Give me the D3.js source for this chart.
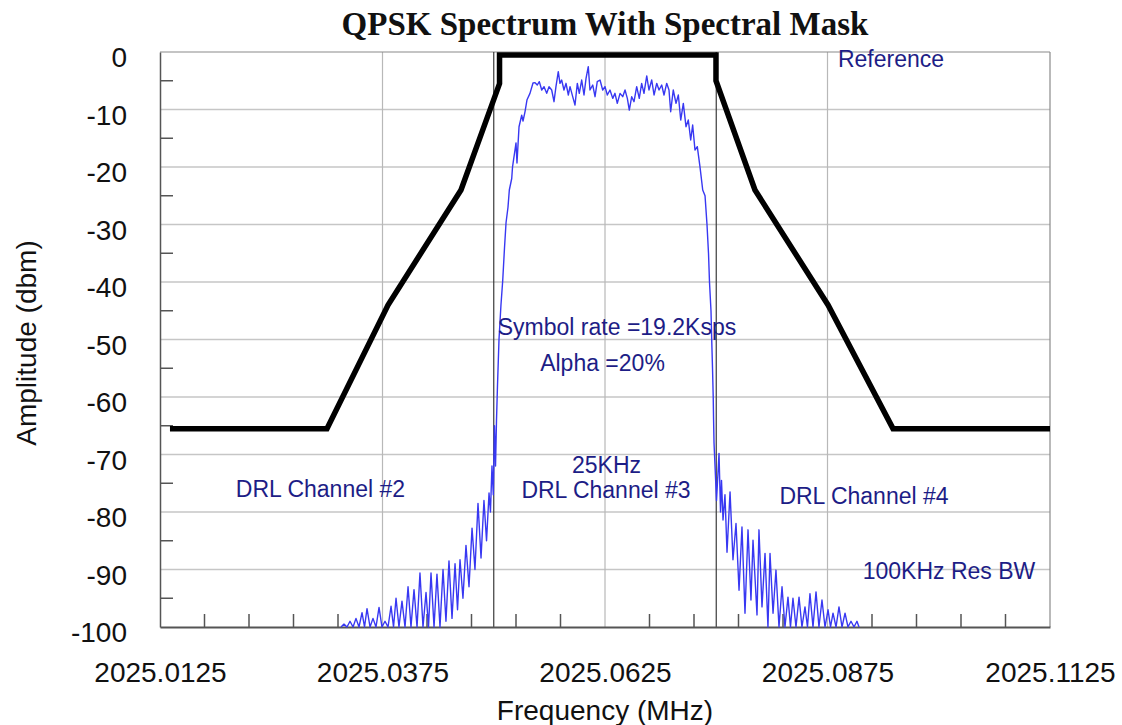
<!DOCTYPE html>
<html><head><meta charset="utf-8">
<script src="https://cdn.jsdelivr.net/npm/d3@7"></script>
<style>body{margin:0;background:#fff;overflow:hidden}</style>
</head><body>
<svg id="chart" width="1122" height="725"></svg>
<script>
// ---------------- data ----------------
const chartTitle = "QPSK Spectrum With Spectral Mask";
const xLabel = "Frequency (MHz)";
const yLabel = "Amplitude (dbm)";
const xDomain = [2025.0125, 2025.1125];
const yDomain = [-100, 0];
const xTicks = [2025.0125, 2025.0375, 2025.0625, 2025.0875, 2025.1125];
const xTickLabels = ["2025.0125", "2025.0375", "2025.0625", "2025.0875", "2025.1125"];
const yTicks = [0, -10, -20, -30, -40, -50, -60, -70, -80, -90, -100];
const xMinorTicks = [2025.0175, 2025.0225, 2025.0275, 2025.0325, 2025.0425, 2025.0475,
  2025.0525, 2025.0575, 2025.0675, 2025.0725, 2025.0775, 2025.0825, 2025.0925,
  2025.0975, 2025.1025, 2025.1075];
const yMinorTicks = [-5, -15, -25, -35, -45, -55, -65, -75, -85, -95];
const channelEdges = [2025.05, 2025.075];

const maskFreq = [2025.01362, 2025.03126, 2025.03812, 2025.04632, 2025.05065, 2025.05065,
  2025.07497, 2025.07497, 2025.07935, 2025.08756, 2025.09486, 2025.1125];
const maskAmp = [-65.5, -65.5, -44, -24, -5.5, -0.5, -0.5, -5, -24, -44, -65.5, -65.5];

const specFreq = [
  2025.03284, 2025.03317, 2025.03351, 2025.03385, 2025.03419, 2025.03452, 2025.03486, 2025.03520,
  2025.03548, 2025.03576, 2025.03610, 2025.03643, 2025.03677, 2025.03711, 2025.03744, 2025.03778,
  2025.03812, 2025.03846, 2025.03874, 2025.03902, 2025.03935, 2025.03969, 2025.04003, 2025.04037,
  2025.04070, 2025.04104, 2025.04138, 2025.04171, 2025.04205, 2025.04239, 2025.04267, 2025.04295,
  2025.04329, 2025.04362, 2025.04396, 2025.04430, 2025.04463, 2025.04497, 2025.04531, 2025.04565,
  2025.04593, 2025.04621, 2025.04654, 2025.04688, 2025.04722, 2025.04756, 2025.04789, 2025.04823,
  2025.04857, 2025.04890, 2025.04919, 2025.04947, 2025.04963, 2025.04980, 2025.04995, 2025.05008,
  2025.05020, 2025.05031, 2025.05042, 2025.05059, 2025.05081, 2025.05101, 2025.05121, 2025.05138,
  2025.05160, 2025.05175, 2025.05202, 2025.05211, 2025.05222, 2025.05239, 2025.05250, 2025.05261,
  2025.05284, 2025.05314, 2025.05329, 2025.05351, 2025.05374, 2025.05407, 2025.05441,
  2025.05464, 2025.05489, 2025.05512, 2025.05539, 2025.05565, 2025.05595, 2025.05621, 2025.05651,
  2025.05677, 2025.05699, 2025.05725, 2025.05744, 2025.05763, 2025.05789, 2025.05812, 2025.05838,
  2025.05857, 2025.05887, 2025.05913, 2025.05939, 2025.05961, 2025.05988, 2025.06014, 2025.06037,
  2025.06062, 2025.06081, 2025.06112, 2025.06138, 2025.06163, 2025.06194, 2025.06224, 2025.06250,
  2025.06276, 2025.06306, 2025.06337, 2025.06362, 2025.06388, 2025.06419, 2025.06449, 2025.06475,
  2025.06501, 2025.06523, 2025.06550, 2025.06576, 2025.06606, 2025.06635, 2025.06662, 2025.06688,
  2025.06719, 2025.06744, 2025.06775, 2025.06801, 2025.06831, 2025.06857, 2025.06887, 2025.06913,
  2025.06943, 2025.06969, 2025.06988, 2025.07017, 2025.07048, 2025.07074, 2025.07101, 2025.07130,
  2025.07160, 2025.07186, 2025.07213, 2025.07235, 2025.07261, 2025.07287, 2025.07317, 2025.07348,
  2025.07374, 2025.07396, 2025.07413, 2025.07424, 2025.07441, 2025.07449, 2025.07458, 2025.07466,
  2025.07470, 2025.07475,
  2025.07503, 2025.07531, 2025.07548, 2025.07559, 2025.07576, 2025.07598, 2025.07621, 2025.07655,
  2025.07688, 2025.07722, 2025.07756, 2025.07789, 2025.07823, 2025.07857, 2025.07890, 2025.07913,
  2025.07958, 2025.07980, 2025.08014, 2025.08048, 2025.08081, 2025.08104, 2025.08138, 2025.08171,
  2025.08205, 2025.08239, 2025.08272, 2025.08306, 2025.08334, 2025.08362, 2025.08396, 2025.08430,
  2025.08463, 2025.08497, 2025.08525, 2025.08553, 2025.08587, 2025.08621, 2025.08654, 2025.08688,
  2025.08722, 2025.08756, 2025.08784, 2025.08812, 2025.08846, 2025.08879, 2025.08913, 2025.08947,
  2025.08980, 2025.09014, 2025.09048, 2025.09081, 2025.09104
];
const specAmp = [
  -100, -99.5, -100, -99, -100, -98.5, -100, -97.5,
  -100, -96.8, -100, -98.5, -100, -96.6, -100, -99,
  -100, -96.4, -100, -95, -100, -95.5, -100, -93,
  -100, -93.5, -100, -90.6, -100, -94, -100, -90.6,
  -100, -90.8, -100, -90, -99, -88.5, -98.5, -89,
  -97, -88.3, -95, -85.8, -93, -82.8, -90, -78.5,
  -88, -78, -85, -76.7, -80, -72, -77, -65,
  -72, -64, -58, -50, -44, -39.7, -34, -29.7,
  -27, -24, -22, -20, -18.8, -17, -15.8, -19.3,
  -13, -11, -12, -10.4, -8.3, -7.2, -5.4,
  -5.33, -5.74, -5.16, -6.61, -6.03, -7.19, -6.03, -6.61,
  -8.64, -6.03, -3.42, -5.45, -4.87, -6.61, -5.45, -7.48,
  -6.03, -7.77, -9.22, -5.45, -7.19, -4.87, -7.48, -4.58,
  -2.55, -6.61, -5.74, -7.77, -5.16, -4.87, -6.61, -6.03,
  -7.48, -6.61, -8.06, -7.19, -8.93, -7.19, -7.77, -6.61,
  -8.06, -10.09, -7.77, -8.64, -6.03, -8.06, -5.45, -7.19,
  -4.17, -6.61, -4.87, -7.48, -5.45, -6.61, -5.74, -7.48,
  -5.45, -6.61, -10.38, -6.61, -8.93, -7.48, -11.83, -8.93,
  -12.99, -11.83, -15.3, -12.7, -17.04, -16.46, -19.94, -24,
  -25, -30, -35, -40, -45, -50, -55, -60,
  -64, -68,
  -78, -69.8, -80, -74.5, -81.4, -77, -87, -76.5,
  -88.3, -82, -93.6, -82.6, -97.6, -83.1, -95.3, -84.9,
  -97.9, -83.1, -96.5, -87.2, -100, -87.2, -97.6, -90.1,
  -100, -93, -100, -94.8, -100, -95, -100, -94.8,
  -100, -96.5, -100, -94.2, -100, -93.9, -100, -95.3,
  -100, -97, -100, -97.6, -100, -96.5, -100, -97.6,
  -100, -99, -100, -99, -100
];

const annoText = ["Reference", "Symbol rate =19.2Ksps", "Alpha =20%", "25KHz",
  "DRL Channel #3", "DRL Channel #2", "DRL Channel #4", "100KHz Res BW"];
const annoFreq = [2025.09464, 2025.06385, 2025.06222, 2025.06267, 2025.06261, 2025.03053, 2025.09160, 2025.10115];
const annoAmp = [-2.61, -49.2, -55.5, -73.2, -77.6, -77.4, -78.6, -91.65];

// ---------------- drawing ----------------
const svg = d3.select("#chart");
const W = 1122, H = 725;
const m = {left: 160, right: 1050, top: 52, bottom: 627};
const x = d3.scaleLinear().domain(xDomain).range([m.left, m.right]);
const y = d3.scaleLinear().domain(yDomain).range([m.bottom, m.top]);
const sans = "'Liberation Sans', Arial, Helvetica, sans-serif";

svg.append("rect").attr("width", W).attr("height", H).attr("fill", "#fff");

// grid
const grid = svg.append("g");
grid.selectAll("line.h").data(yTicks.filter(d => d > -100 && d < 0)).join("line")
  .attr("x1", m.left).attr("x2", m.right).attr("y1", d => y(d)).attr("y2", d => y(d))
  .attr("stroke", "#c6c6c6").attr("stroke-width", 1.5);
grid.selectAll("line.v").data(xTicks.slice(1, -1)).join("line")
  .attr("x1", d => x(d)).attr("x2", d => x(d)).attr("y1", m.top).attr("y2", m.bottom)
  .attr("stroke", "#b8b8b8").attr("stroke-width", 1.2);

// frame top/right
svg.append("line").attr("x1", m.left).attr("x2", m.right).attr("y1", m.top).attr("y2", m.top)
  .attr("stroke", "#8a8a8a").attr("stroke-width", 1.2);
svg.append("line").attr("x1", m.right).attr("x2", m.right).attr("y1", m.top).attr("y2", m.bottom)
  .attr("stroke", "#8a8a8a").attr("stroke-width", 1.2);

// channel edges
svg.selectAll("line.ch").data(channelEdges).join("line")
  .attr("x1", d => x(d)).attr("x2", d => x(d)).attr("y1", m.top).attr("y2", m.bottom)
  .attr("stroke", "#3a3a3a").attr("stroke-width", 1.2);

// minor ticks
svg.selectAll("line.xm").data(xMinorTicks).join("line")
  .attr("x1", d => x(d)).attr("x2", d => x(d)).attr("y1", m.bottom).attr("y2", m.bottom - 13)
  .attr("stroke", "#555").attr("stroke-width", 1.5);
svg.selectAll("line.ym").data(yMinorTicks).join("line")
  .attr("x1", m.left).attr("x2", m.left + 13).attr("y1", d => y(d)).attr("y2", d => y(d))
  .attr("stroke", "#555").attr("stroke-width", 1.5);

// axes
const yAxis = svg.append("g").attr("transform", `translate(${m.left},0)`)
  .call(d3.axisLeft(y).tickValues(yTicks).tickSize(0).tickPadding(33).tickFormat(d => String(d)));
yAxis.select(".domain").attr("stroke", "#555").attr("stroke-width", 1.5);
yAxis.selectAll("text").attr("font-family", sans).attr("font-size", 28).attr("fill", "#111")
  .attr("dy", "0.52em");

const xAxis = svg.append("g").attr("transform", `translate(0,${m.bottom})`)
  .call(d3.axisBottom(x).tickValues(xTicks).tickSize(0).tickPadding(35).tickFormat((d, i) => xTickLabels[i]));
xAxis.select(".domain").attr("stroke", "#555").attr("stroke-width", 2);
xAxis.selectAll("text").attr("font-family", sans).attr("font-size", 28).attr("fill", "#111");

// clip
svg.append("clipPath").attr("id", "plotclip").append("rect")
  .attr("x", m.left).attr("y", m.top).attr("width", m.right - m.left).attr("height", m.bottom - m.top + 1);

// spectrum
const spec = specFreq.map((f, i) => [f, specAmp[i]]);
svg.append("path").datum(spec).attr("clip-path", "url(#plotclip)")
  .attr("d", d3.line().x(d => x(d[0])).y(d => y(d[1])))
  .attr("fill", "none").attr("stroke", "#3838f2").attr("stroke-width", 1.4)
  .attr("stroke-linejoin", "round");

// mask
const mask = maskFreq.map((f, i) => [f, maskAmp[i]]);
svg.append("path").datum(mask)
  .attr("d", d3.line().x(d => x(d[0])).y(d => y(d[1])))
  .attr("fill", "none").attr("stroke", "#000").attr("stroke-width", 5.5)
  .attr("stroke-linejoin", "miter").attr("stroke-miterlimit", 10);

// annotations
svg.selectAll("text.anno").data(annoText).join("text")
  .attr("x", (d, i) => x(annoFreq[i])).attr("y", (d, i) => y(annoAmp[i]))
  .attr("text-anchor", "middle").attr("font-family", sans).attr("font-size", 23)
  .attr("fill", "#1d1d86").text(d => d);

// titles
svg.append("text").attr("x", 605).attr("y", 35).attr("text-anchor", "middle")
  .attr("font-family", "'Liberation Serif', 'Times New Roman', serif").attr("font-weight", "bold")
  .attr("font-size", 33).attr("fill", "#111").text(chartTitle);
svg.append("text").attr("x", 605).attr("y", 720).attr("text-anchor", "middle")
  .attr("font-family", sans).attr("font-size", 28).attr("fill", "#111").text(xLabel);
svg.append("text").attr("transform", "translate(36,343) rotate(-90)").attr("text-anchor", "middle")
  .attr("font-family", sans).attr("font-size", 28).attr("fill", "#111").text(yLabel);
</script>
</body></html>
